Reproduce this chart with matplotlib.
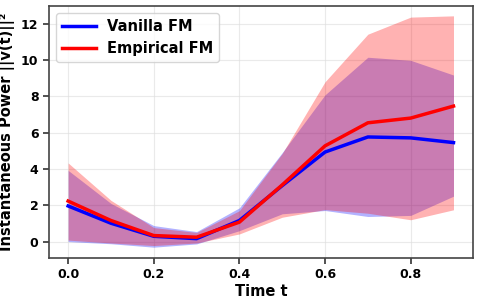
import matplotlib
matplotlib.use("Agg")
import matplotlib.pyplot as plt
import numpy as np

t = [0.0, 0.1, 0.2, 0.3, 0.4, 0.5, 0.6, 0.7, 0.8, 0.9]
vanilla_mean = [1.96, 1.01, 0.29, 0.16, 1.16, 3.08, 4.93, 5.76, 5.71, 5.45]
vanilla_low = [0.0, -0.12, -0.31, -0.13, 0.6, 1.53, 1.71, 1.38, 1.44, 2.5]
vanilla_high = [3.92, 2.1, 0.88, 0.55, 1.86, 4.9, 8.08, 10.15, 9.98, 9.17]
emp_mean = [2.23, 1.16, 0.33, 0.24, 1.07, 3.12, 5.27, 6.54, 6.8, 7.46]
emp_low = [0.08, -0.08, -0.22, -0.08, 0.42, 1.34, 1.76, 1.56, 1.2, 1.75]
emp_high = [4.33, 2.27, 0.77, 0.5, 1.7, 4.85, 8.8, 11.42, 12.36, 12.43]

plt.rcParams['font.family'] = ['DejaVu Sans']
plt.rcParams['font.weight'] = 'bold'

fig = plt.figure(figsize=(4.79, 3.02), dpi=100)
ax = fig.add_axes([0.102, 0.146, 0.885, 0.834])

ax.fill_between(t, vanilla_low, vanilla_high, color='blue', alpha=0.3, linewidth=0)
ax.fill_between(t, emp_low, emp_high, color='red', alpha=0.3, linewidth=0)
ax.plot(t, vanilla_mean, color='blue', lw=2.5, label='Vanilla FM')
ax.plot(t, emp_mean, color='red', lw=2.5, label='Empirical FM')

ax.set_ylim(-0.9, 12.97)
ax.set_xticks([0.0, 0.2, 0.4, 0.6, 0.8])
ax.set_yticks([0, 2, 4, 6, 8, 10, 12])
ax.grid(True, color='#dddddd', alpha=0.6, linewidth=0.8)
ax.set_axisbelow(True)

ax.set_xlabel('Time t', fontsize=10.5, fontweight='bold', labelpad=2)
ax.set_ylabel('Instantaneous Power ||v(t)||²', fontsize=10.5, fontweight='bold', labelpad=4)
ax.tick_params(axis='both', labelsize=9, length=4, width=1.2, color='#333333')
for lab in ax.get_xticklabels() + ax.get_yticklabels():
    lab.set_fontweight('bold')
for s in ax.spines.values():
    s.set_color('#444444')
    s.set_linewidth(1.2)

leg = ax.legend(loc='upper left', prop={'weight': 'bold', 'size': 10.5}, framealpha=0.8,
                borderaxespad=0.5, handlelength=2.3)

fig.savefig('out.png', dpi=100)
